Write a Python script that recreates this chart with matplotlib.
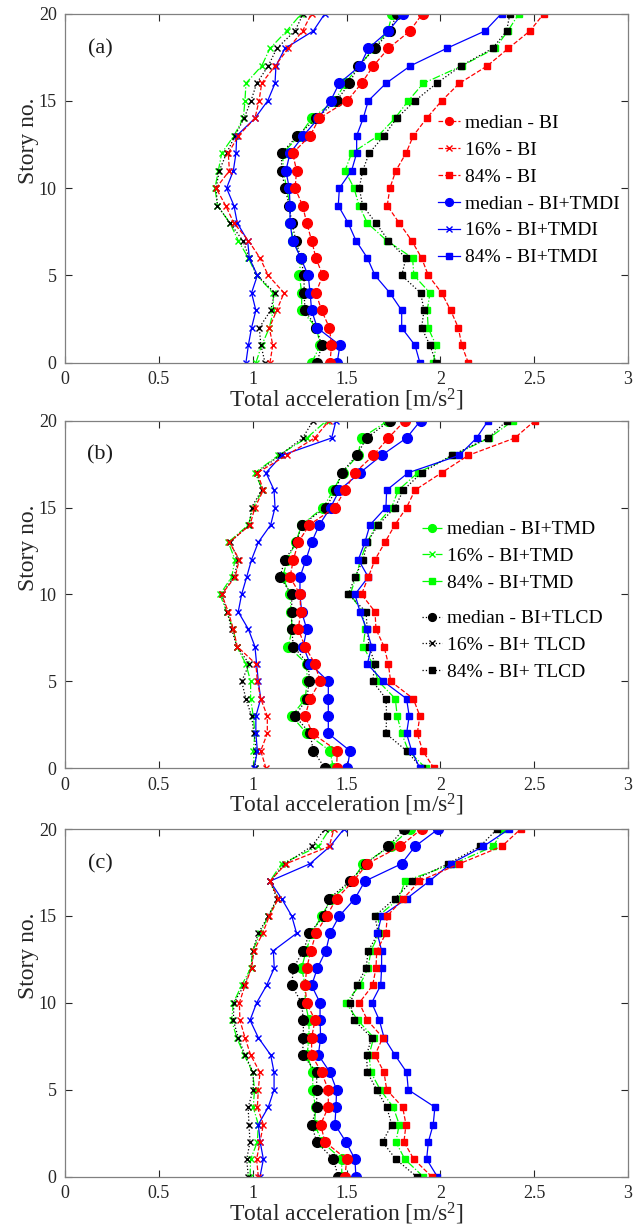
import matplotlib
matplotlib.use("Agg")
import matplotlib.pyplot as plt

plt.rcParams['font.family'] = ['Liberation Serif', 'DejaVu Serif']
plt.rcParams['mathtext.fontset'] = 'custom'
plt.rcParams['mathtext.rm'] = 'Liberation Serif'
plt.rcParams['mathtext.it'] = 'Liberation Serif:italic'

stories = list(range(21))

# ---- panel (a) ----
a_bi_16 = [1.092, 1.107, 1.089, 1.128, 1.167, 1.083, 1.039, 0.977, 0.900, 0.856, 0.805,
           0.876, 0.870, 0.924, 1.012, 1.034, 1.048, 1.119, 1.190, 1.266, 1.314]
a_tmdi_16 = [0.964, 0.977, 0.994, 1.017, 0.994, 1.025, 0.982, 0.973, 0.918, 0.900, 0.861,
             0.897, 0.911, 0.915, 1.012, 1.080, 1.119, 1.124, 1.172, 1.323, 1.385]
a_tmd_16 = [1.017, 1.048, 1.089, 1.110, 1.110, 1.021, 0.977, 0.923, 0.879, 0.812, 0.799,
            0.817, 0.835, 0.900, 0.950, 0.959, 0.964, 1.048, 1.092, 1.181, 1.260]
a_tlcd_16 = [1.066, 1.044, 1.035, 1.096, 1.117, 1.025, 0.982, 0.947, 0.879, 0.812, 0.805,
             0.822, 0.861, 0.906, 0.954, 0.991, 1.021, 1.083, 1.128, 1.225, 1.270]

a_bi_med = [1.412, 1.420, 1.409, 1.367, 1.337, 1.373, 1.337, 1.314, 1.288, 1.266, 1.226,
            1.234, 1.213, 1.306, 1.355, 1.504, 1.580, 1.643, 1.723, 1.838, 1.905]
a_tmdi_med = [1.450, 1.465, 1.344, 1.314, 1.306, 1.296, 1.256, 1.213, 1.199, 1.199, 1.195,
              1.177, 1.199, 1.270, 1.350, 1.415, 1.461, 1.572, 1.616, 1.723, 1.800]
a_tmd_med = [1.314, 1.360, 1.340, 1.261, 1.261, 1.249, 1.256, 1.217, 1.200, 1.199, 1.181,
             1.163, 1.160, 1.249, 1.314, 1.438, 1.492, 1.568, 1.645, 1.720, 1.745]
a_tlcd_med = [1.344, 1.367, 1.340, 1.279, 1.274, 1.274, 1.256, 1.231, 1.208, 1.195, 1.172,
              1.154, 1.154, 1.238, 1.340, 1.447, 1.515, 1.563, 1.652, 1.730, 1.770]

a_bi_84 = [2.149, 2.114, 2.096, 2.055, 2.007, 1.936, 1.900, 1.847, 1.781, 1.717, 1.731,
           1.763, 1.817, 1.856, 1.927, 2.007, 2.101, 2.250, 2.362, 2.477, 2.552]
a_tmdi_84 = [1.891, 1.865, 1.794, 1.794, 1.731, 1.652, 1.611, 1.550, 1.509, 1.456, 1.462,
             1.527, 1.554, 1.554, 1.589, 1.616, 1.710, 1.840, 2.033, 2.238, 2.326]
a_tmd_84 = [1.963, 1.977, 1.935, 1.930, 1.945, 1.859, 1.852, 1.714, 1.611, 1.567, 1.540,
            1.492, 1.527, 1.669, 1.758, 1.829, 1.909, 2.114, 2.291, 2.360, 2.419]
a_tlcd_84 = [1.977, 1.945, 1.900, 1.913, 1.895, 1.794, 1.817, 1.723, 1.657, 1.586, 1.568,
             1.586, 1.621, 1.700, 1.767, 1.865, 1.980, 2.110, 2.278, 2.353, 2.371]

# ---- panel (b) ----
b_bi_16 = [1.071, 1.043, 1.078, 1.078, 1.043, 1.025, 1.017, 0.918, 0.897, 0.870, 0.835,
           0.906, 0.929, 0.876, 0.986, 1.012, 1.057, 1.025, 1.181, 1.330, 1.408]
b_tmdi_16 = [1.007, 1.025, 1.017, 1.017, 1.043, 1.030, 1.021, 1.012, 0.977, 0.923, 0.941,
             0.968, 0.994, 1.030, 1.096, 1.119, 1.114, 1.071, 1.155, 1.421, 1.444]
b_tmd_16 = [1.010, 1.003, 1.012, 1.003, 0.989, 0.989, 0.964, 0.915, 0.897, 0.861, 0.826,
            0.888, 0.906, 0.870, 0.977, 1.003, 1.053, 1.012, 1.137, 1.288, 1.394]
b_tlcd_16 = [1.012, 1.020, 1.007, 0.994, 0.964, 0.941, 0.982, 0.915, 0.888, 0.865, 0.835,
             0.900, 0.924, 0.879, 0.982, 0.994, 1.048, 1.021, 1.145, 1.266, 1.323]

b_bi_med = [1.447, 1.451, 1.319, 1.279, 1.306, 1.359, 1.332, 1.279, 1.243, 1.256, 1.252,
            1.199, 1.217, 1.243, 1.302, 1.438, 1.492, 1.545, 1.643, 1.723, 1.811]
b_tmdi_med = [1.504, 1.519, 1.403, 1.403, 1.403, 1.403, 1.306, 1.270, 1.288, 1.261, 1.252,
              1.252, 1.284, 1.314, 1.355, 1.415, 1.462, 1.572, 1.687, 1.820, 1.895]
b_tmd_med = [1.430, 1.412, 1.288, 1.208, 1.280, 1.290, 1.288, 1.190, 1.210, 1.205, 1.199,
             1.160, 1.185, 1.230, 1.261, 1.376, 1.430, 1.480, 1.560, 1.580, 1.722]
b_tlcd_med = [1.385, 1.323, 1.306, 1.226, 1.288, 1.302, 1.297, 1.217, 1.208, 1.208, 1.208,
              1.145, 1.172, 1.234, 1.261, 1.390, 1.444, 1.474, 1.554, 1.607, 1.731]

b_bi_84 = [1.966, 1.906, 1.877, 1.891, 1.856, 1.735, 1.723, 1.700, 1.657, 1.652, 1.580,
           1.616, 1.652, 1.705, 1.758, 1.820, 1.865, 2.007, 2.149, 2.397, 2.504]
b_tmdi_84 = [1.891, 1.847, 1.820, 1.834, 1.820, 1.696, 1.611, 1.634, 1.607, 1.572, 1.545,
             1.616, 1.563, 1.598, 1.625, 1.710, 1.714, 1.829, 2.101, 2.193, 2.255]
b_tmd_84 = [1.923, 1.830, 1.794, 1.770, 1.760, 1.670, 1.640, 1.589, 1.600, 1.585, 1.520,
            1.550, 1.575, 1.610, 1.660, 1.740, 1.776, 1.880, 2.070, 2.260, 2.388]
b_tlcd_84 = [1.900, 1.820, 1.710, 1.714, 1.710, 1.639, 1.652, 1.620, 1.610, 1.604, 1.510,
             1.545, 1.589, 1.610, 1.669, 1.758, 1.803, 1.900, 2.060, 2.255, 2.356]

# ---- panel (c) ----
c_bi_16 = [1.030, 1.021, 1.039, 1.057, 1.025, 1.030, 1.039, 0.989, 0.959, 0.932, 0.929,
           0.959, 0.994, 1.007, 1.053, 1.089, 1.137, 1.092, 1.177, 1.408, 1.433]
c_tmdi_16 = [1.039, 1.057, 1.040, 1.030, 1.083, 1.114, 1.114, 1.096, 1.030, 0.986, 1.021,
             1.074, 1.115, 1.110, 1.234, 1.208, 1.154, 1.092, 1.305, 1.412, 1.486]
c_tmd_16 = [0.986, 0.989, 1.025, 1.030, 1.003, 1.010, 1.000, 0.955, 0.915, 0.888, 0.897,
            0.941, 0.990, 1.000, 1.040, 1.083, 1.137, 1.092, 1.154, 1.350, 1.410]
c_tlcd_16 = [0.977, 0.968, 0.986, 0.980, 0.976, 1.003, 1.003, 0.959, 0.923, 0.897, 0.900,
             0.954, 0.994, 1.000, 1.030, 1.083, 1.130, 1.092, 1.172, 1.314, 1.385]

c_bi_med = [1.492, 1.501, 1.385, 1.362, 1.403, 1.403, 1.367, 1.314, 1.314, 1.332, 1.288,
            1.279, 1.288, 1.310, 1.337, 1.394, 1.447, 1.536, 1.611, 1.785, 1.900]
c_tmdi_med = [1.550, 1.545, 1.497, 1.438, 1.444, 1.447, 1.412, 1.350, 1.362, 1.359, 1.359,
              1.314, 1.345, 1.390, 1.412, 1.462, 1.545, 1.598, 1.793, 1.865, 1.989]
c_tmd_med = [1.475, 1.474, 1.370, 1.330, 1.335, 1.320, 1.320, 1.290, 1.300, 1.300, 1.280,
             1.280, 1.261, 1.285, 1.315, 1.367, 1.420, 1.530, 1.589, 1.735, 1.838]
c_tlcd_med = [1.456, 1.430, 1.341, 1.314, 1.341, 1.341, 1.341, 1.266, 1.270, 1.270, 1.261,
              1.208, 1.217, 1.270, 1.302, 1.380, 1.408, 1.518, 1.604, 1.723, 1.806]

c_bi_84 = [1.954, 1.859, 1.806, 1.817, 1.799, 1.714, 1.700, 1.652, 1.693, 1.611, 1.568,
           1.639, 1.657, 1.661, 1.710, 1.717, 1.803, 1.888, 2.101, 2.327, 2.428]
c_tmdi_84 = [1.984, 1.927, 1.936, 1.962, 1.971, 1.829, 1.821, 1.758, 1.700, 1.675, 1.634,
             1.682, 1.687, 1.687, 1.664, 1.687, 1.821, 1.941, 2.055, 2.229, 2.367]
c_tmd_84 = [1.909, 1.811, 1.763, 1.781, 1.749, 1.680, 1.630, 1.620, 1.645, 1.560, 1.497,
            1.570, 1.615, 1.630, 1.675, 1.670, 1.780, 1.811, 2.070, 2.282, 2.335]
c_tlcd_84 = [1.874, 1.763, 1.692, 1.741, 1.714, 1.661, 1.611, 1.607, 1.634, 1.540, 1.520,
             1.554, 1.604, 1.616, 1.669, 1.651, 1.758, 1.847, 2.040, 2.211, 2.303]

xticks = [0, 0.5, 1, 1.5, 2, 2.5, 3]
xticklabels = ['0', '0.5', '1', '1.5', '2', '2.5', '3']
yticks = [0, 5, 10, 15, 20]

# system -> colour, linestyle
systems = {
    'TMD': ('#00ff00', '-.'),
    'TLCD': ('k', ':'),
    'TMDI': ('b', '-'),
    'BI': ('r', '--'),
}
stats = [('med', 'o', 7), ('16', 'x', 5), ('84', 's', 5)]

panels = [
    ('(a)', {'BI': (a_bi_med, a_bi_16, a_bi_84), 'TMDI': (a_tmdi_med, a_tmdi_16, a_tmdi_84),
             'TMD': (a_tmd_med, a_tmd_16, a_tmd_84), 'TLCD': (a_tlcd_med, a_tlcd_16, a_tlcd_84)}),
    ('(b)', {'BI': (b_bi_med, b_bi_16, b_bi_84), 'TMDI': (b_tmdi_med, b_tmdi_16, b_tmdi_84),
             'TMD': (b_tmd_med, b_tmd_16, b_tmd_84), 'TLCD': (b_tlcd_med, b_tlcd_16, b_tlcd_84)}),
    ('(c)', {'BI': (c_bi_med, c_bi_16, c_bi_84), 'TMDI': (c_tmdi_med, c_tmdi_16, c_tmdi_84),
             'TMD': (c_tmd_med, c_tmd_16, c_tmd_84), 'TLCD': (c_tlcd_med, c_tlcd_16, c_tlcd_84)}),
]

# axes rectangles in figure fraction (left, bottom, width, height)
rects = [(0.1011, 0.7046, 0.8756, 0.2844),
         (0.1011, 0.3744, 0.8756, 0.2831),
         (0.1011, 0.0418, 0.8756, 0.2831)]

leg_kw = dict(loc='upper left', frameon=False, fontsize=14, handletextpad=0.25,
              borderpad=0, borderaxespad=0, labelspacing=0.48, numpoints=1,
              markerscale=0.8)

fig = plt.figure(figsize=(6.43, 12.28), dpi=100)

for (tag, data), rect in zip(panels, rects):
    ax = fig.add_axes(rect)
    handles = {}
    for sysname in ['TMD', 'TLCD', 'TMDI', 'BI']:
        color, ls = systems[sysname]
        for (key, mk, ms), vals in zip(stats, data[sysname]):
            line, = ax.plot(vals, stories, color=color, linestyle=ls, linewidth=0.9,
                            marker=mk, markersize=ms, markeredgewidth=1.0,
                            markerfacecolor=color, markeredgecolor=color)
            handles[(sysname, key)] = line
    ax.set_xlim(0, 3)
    ax.set_ylim(0, 20)
    ax.set_xticks(xticks)
    ax.set_xticklabels(xticklabels)
    ax.set_yticks(yticks)
    ax.tick_params(direction='in', top=True, right=True, length=5, width=0.8,
                   labelsize=13, colors='0.15', pad=6)
    for sp in ax.spines.values():
        sp.set_color('0.5')
        sp.set_linewidth(0.9)
    ax.set_xlabel('Total acceleration [m/s$^2$]', fontsize=17, color='0.15', labelpad=-1)
    ax.set_ylabel('Story no.', fontsize=17, color='0.15')
    ax.yaxis.set_label_coords(-0.047, 0.635)
    ax.text(0.062, 0.9, tag, transform=ax.transAxes, fontsize=16, ha='center', va='center',
            color='0.1')

    if tag == '(a)':
        hs = [handles[('BI', 'med')], handles[('BI', '16')], handles[('BI', '84')],
              handles[('TMDI', 'med')], handles[('TMDI', '16')], handles[('TMDI', '84')]]
        labels = ['median - BI', '16% - BI', '84% - BI',
                  'median - BI+TMDI', '16% - BI+TMDI', '84% - BI+TMDI']
        ax.legend(hs, labels, bbox_to_anchor=(0.6625, 0.712), handlelength=1.15, **leg_kw)
    elif tag == '(b)':
        hs1 = [handles[('TMD', 'med')], handles[('TMD', '16')], handles[('TMD', '84')]]
        lab1 = ['median - BI+TMD', '16% - BI+TMD', '84% - BI+TMD']
        leg1 = ax.legend(hs1, lab1, bbox_to_anchor=(0.634, 0.712), handlelength=1.05,
                         **leg_kw)
        ax.add_artist(leg1)
        hs2 = [handles[('TLCD', 'med')], handles[('TLCD', '16')], handles[('TLCD', '84')]]
        lab2 = ['median - BI+TLCD', '16% - BI+ TLCD', '84% - BI+ TLCD']
        ax.legend(hs2, lab2, bbox_to_anchor=(0.634, 0.456), handlelength=1.05, **leg_kw)

fig.savefig('out.png', dpi=100)
